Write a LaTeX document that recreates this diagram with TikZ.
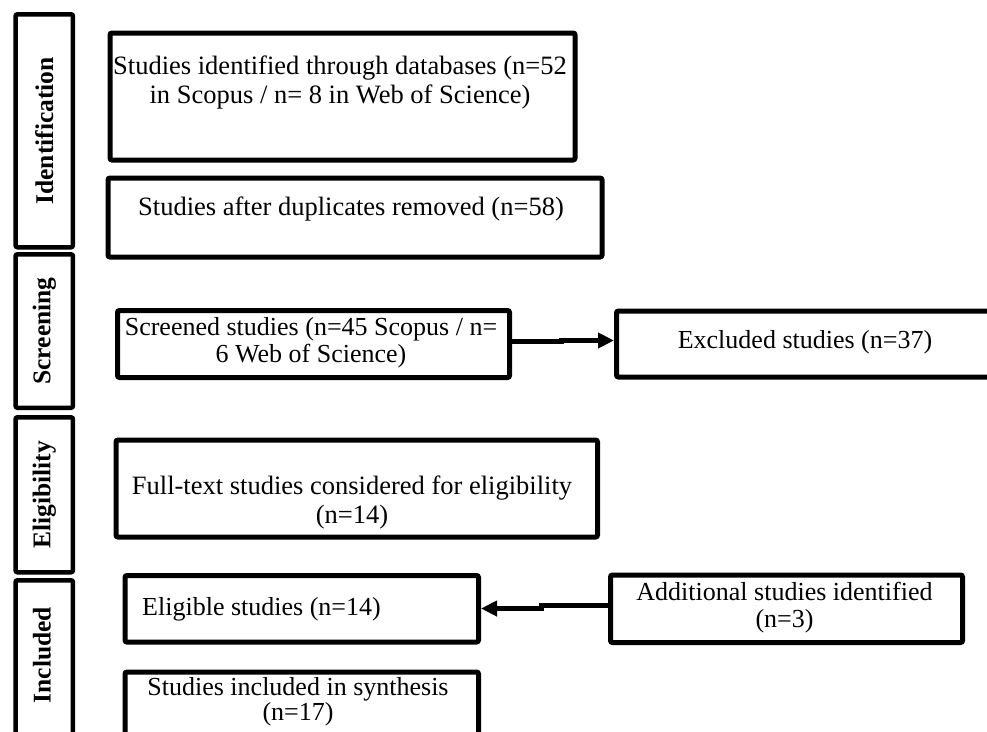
\documentclass[tikz,border=0pt]{standalone}
\usepackage{fontspec}
\setmainfont{Liberation Serif}
\usetikzlibrary{arrows.meta}
\tikzset{
  stagebox/.style={draw, line width=4.5pt, rounded corners=2pt, inner sep=0pt, anchor=north west},
  stagelabel/.style={rotate=90, font=\fontsize{25.5}{28}\selectfont\bfseries, inner sep=0pt},
  flowbox/.style={draw, line width=5pt, rounded corners=2pt, inner sep=0pt, anchor=north west},
  flowtext/.style={align=center, inner sep=0pt, font=\fontsize{26.5}{29}\selectfont},
  narrowtext/.style={align=center, inner sep=0pt, font=\fontsize{26}{27}\selectfont},
  flowarrow/.style={line width=5pt, -{Triangle[length=16pt,width=15pt]}},
}
\begin{document}
\begin{tikzpicture}[x=1pt,y=-1pt]
\useasboundingbox (0,0) rectangle (987,731);
\clip (0,0) rectangle (987,731);
% stage boxes
\node[stagebox, minimum width=57.4, minimum height=233] (ident) at (13.3,12) {};
\node[stagebox, minimum width=57.4, minimum height=153.5] (screen) at (13.3,252) {};
\node[stagebox, minimum width=57.4, minimum height=155] (elig) at (13.3,415) {};
\node[stagebox, minimum width=57.4, minimum height=162] (incl) at (13.3,578) {};
\node[stagelabel] (identl) at (ident.center) {Identification};
\node[stagelabel] (screenl) at (screen.center) {Screening};
\node[stagelabel] (eligl) at (elig.center) {Eligibility};
\node[stagelabel] (incll) at (42,655) {Included};
% flow boxes
\node[flowbox, minimum width=465, minimum height=127] (b1) at (107.5,30.5) {};
\node[flowbox, minimum width=494, minimum height=79] (b2) at (105.5,175.5) {};
\node[flowbox, minimum width=392, minimum height=67] (scr) at (115,308) {};
\node[flowbox, minimum width=386, minimum height=66] (exc) at (614,308.5) {};
\node[flowbox, minimum width=481.5, minimum height=97] (full) at (113.5,437.5) {};
\node[flowbox, minimum width=353.5, minimum height=66.5] (eli) at (122.5,573) {};
\node[flowbox, minimum width=352, minimum height=67.5] (add) at (608,572.5) {};
\node[flowbox, minimum width=353.5, minimum height=75.5] (syn) at (122.5,669.5) {};
% texts
\node[flowtext] (t1) at (340,82.5) {Studies identified through databases (n=52\\in Scopus / n= 8 in Web of Science)};
\node[flowtext] (t2) at (351,209) {Studies after duplicates removed (n=58)};
\node[narrowtext] (t3) at (311,342.5) {Screened studies (n=45 Scopus / n=\\6 Web of Science)};
\node[narrowtext] (t4) at (805,342) {Excluded studies (n=37)};
\node[flowtext] (t5) at (352,502) {Full-text studies considered for eligibility\\(n=14)};
\node[narrowtext, anchor=west] (t6) at (142,609) {Eligible studies (n=14)};
\node[narrowtext] (t7) at (784.5,607.5) {Additional studies identified\\(n=3)};
\node[narrowtext, font=\fontsize{26}{25}\selectfont] (t8) at (298,702) {Studies included in synthesis\\(n=17)};
% connectors
\coordinate (notchA) at (561,341.5);
\coordinate (notchB) at (561,340.5);
\draw[flowarrow] (scr.east |- notchA) -- (notchA) -- (notchB) -- (exc.west |- notchB);
\coordinate (jogA) at (541,605.5);
\coordinate (jogB) at (541,608.5);
\draw[flowarrow] (add.west |- jogA) -- (jogA) -- (jogB) -- (eli.east |- jogB);
\end{tikzpicture}
\end{document}
